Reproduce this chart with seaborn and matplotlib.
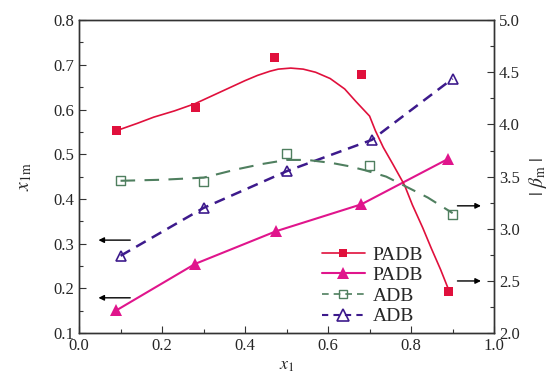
import numpy as np
import matplotlib
matplotlib.use("Agg")
import matplotlib.pyplot as plt
from matplotlib.ticker import MultipleLocator, FormatStrFormatter
from matplotlib.lines import Line2D
import seaborn as sns

# PADB, |beta_m| (right axis), filled squares + fitted curve
padb_sq_x = [0.09, 0.28, 0.47, 0.68, 0.89]
padb_sq_y = [3.94, 4.16, 4.64, 4.48, 2.40]
padb_fit_x = [0.09, 0.14, 0.18, 0.23, 0.28, 0.34, 0.40, 0.43, 0.46, 0.48, 0.51,
              0.54, 0.57, 0.605, 0.64, 0.667, 0.70, 0.714, 0.733, 0.756, 0.784,
              0.803, 0.828, 0.849, 0.871, 0.892]
padb_fit_y = [3.94, 4.01, 4.07, 4.13, 4.20, 4.31, 4.42, 4.47, 4.51, 4.53, 4.54,
              4.53, 4.50, 4.44, 4.34, 4.22, 4.08, 3.94, 3.78, 3.62, 3.42,
              3.23, 3.01, 2.81, 2.61, 2.40]

# PADB, x_1m (left axis), filled triangles
padb_tri_x = [0.09, 0.28, 0.475, 0.68, 0.89]
padb_tri_y = [0.151, 0.255, 0.328, 0.388, 0.490]

# ADB, |beta_m| (right axis), open squares + fitted curve
adb_sq_x = [0.10, 0.30, 0.50, 0.70, 0.90]
adb_sq_y = [3.46, 3.45, 3.72, 3.61, 3.14]
adb_fit_x = [0.10, 0.20, 0.30, 0.34, 0.38, 0.44, 0.50, 0.55, 0.61, 0.65, 0.69,
             0.74, 0.78, 0.84, 0.90]
adb_fit_y = [3.46, 3.47, 3.49, 3.53, 3.57, 3.62, 3.66, 3.66, 3.63, 3.60, 3.56,
             3.50, 3.42, 3.30, 3.15]

# ADB, x_1m (left axis), open triangles
adb_tri_x = [0.10, 0.30, 0.50, 0.705, 0.90]
adb_tri_y = [0.273, 0.380, 0.462, 0.532, 0.669]

red = "#e0103c"
magenta = "#e0158c"
green = "#4f7f5f"
purple = "#3d1a8c"

sns.set_style("ticks")
plt.rcParams["font.family"] = ["Liberation Serif", "DejaVu Serif"]
plt.rcParams["mathtext.fontset"] = "stix"

fig = plt.figure(figsize=(5.49, 3.79), dpi=100)
ax = fig.add_axes([0.144, 0.121, 0.756, 0.826])
ax2 = ax.twinx()

# left axis: triangles
sns.lineplot(x=padb_tri_x, y=padb_tri_y, ax=ax, color=magenta, lw=1.5,
             marker="^", markersize=8, markeredgewidth=0)
sns.lineplot(x=adb_tri_x, y=adb_tri_y, ax=ax, color=purple, lw=1.8,
             marker="^", markersize=7, markerfacecolor="none",
             markeredgecolor=purple, markeredgewidth=1.2,
             linestyle=(0, (4.4, 2.8)))

# right axis: squares and fitted curves
sns.lineplot(x=padb_fit_x, y=padb_fit_y, ax=ax2, color=red, lw=1.2, sort=False)
sns.scatterplot(x=padb_sq_x, y=padb_sq_y, ax=ax2, color=red, marker="s", s=40,
                edgecolor="none")
sns.lineplot(x=adb_fit_x, y=adb_fit_y, ax=ax2, color=green, lw=1.5, sort=False,
             linestyle=(0, (7, 4.5)))
sns.scatterplot(x=adb_sq_x, y=adb_sq_y, ax=ax2, marker="s", s=40,
                facecolor="none", edgecolor=green, linewidth=1)

ax.set_xlim(0, 1.0)
ax.set_ylim(0.1, 0.8)
ax2.set_ylim(2.0, 5.0)

ax.xaxis.set_major_locator(MultipleLocator(0.2))
ax.xaxis.set_minor_locator(MultipleLocator(0.1))
ax.yaxis.set_major_locator(MultipleLocator(0.1))
ax.yaxis.set_minor_locator(MultipleLocator(0.05))
ax2.yaxis.set_major_locator(MultipleLocator(0.5))
ax2.yaxis.set_minor_locator(MultipleLocator(0.25))
ax.xaxis.set_major_formatter(FormatStrFormatter("%.1f"))
ax.yaxis.set_major_formatter(FormatStrFormatter("%.1f"))
ax2.yaxis.set_major_formatter(FormatStrFormatter("%.1f"))

for a in (ax, ax2):
    a.tick_params(which="both", direction="in", labelsize=12, width=0.8, color="#333333")
    a.tick_params(which="major", length=5)
    a.tick_params(which="minor", length=3)
    for s in a.spines.values():
        s.set_linewidth(1.0)
        s.set_color("#333333")
ax.tick_params(axis="y", which="both", right=False)
ax.tick_params(axis="x", which="both", top=False)

ax.set_xlabel("$x_1$", fontsize=13, labelpad=2)
ax.set_ylabel(r"$x_{1\mathrm{m}}$", fontsize=14, labelpad=14)
ax2.set_ylabel(r"$|\ \beta_\mathrm{m}\ |$", fontsize=14, labelpad=5)

# arrows pointing to the axis each series belongs to
arrow = dict(arrowstyle="-|>", color="black", lw=1.0, mutation_scale=8)
ax.annotate("", xy=(0.04, 0.308), xytext=(0.13, 0.308), arrowprops=arrow)
ax.annotate("", xy=(0.04, 0.179), xytext=(0.13, 0.179), arrowprops=arrow)
ax2.annotate("", xy=(0.975, 3.22), xytext=(0.905, 3.22), arrowprops=arrow)
ax2.annotate("", xy=(0.975, 2.50), xytext=(0.905, 2.50), arrowprops=arrow)

handles = [
    Line2D([], [], color=red, lw=1.2, marker="s", markersize=6, markeredgewidth=0),
    Line2D([], [], color=magenta, lw=1.5, marker="^", markersize=8, markeredgewidth=0),
    Line2D([], [], color=green, lw=1.2, linestyle=(0, (4, 3)), marker="s", markersize=6,
           markerfacecolor="none", markeredgecolor=green),
    Line2D([], [], color=purple, lw=1.5, linestyle=(0, (3, 2.5)), marker="^", markersize=8,
           markerfacecolor="none", markeredgecolor=purple, markeredgewidth=1.2),
]
ax2.legend(handles, ["PADB", "PADB", "ADB", "ADB"], loc="lower left",
           bbox_to_anchor=(0.585, 0.025), frameon=False, fontsize=14,
           handlelength=2.2, handletextpad=0.4, labelspacing=0.15,
           borderpad=0, borderaxespad=0)

fig.savefig("out.png", dpi=100)
